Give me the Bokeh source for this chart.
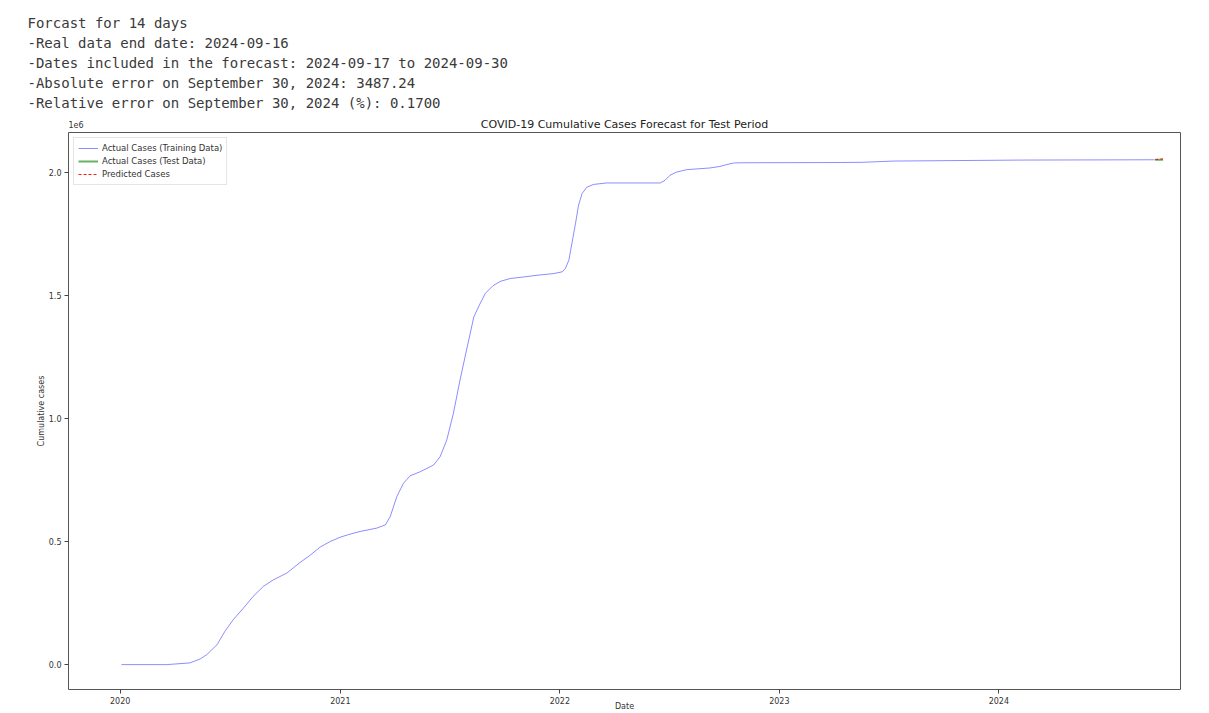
import pandas as pd
from bokeh.plotting import figure
from bokeh.layouts import column
from bokeh.models import (Range1d, FixedTicker, CustomJSTickFormatter, Label, Title,
                          Legend, LegendItem, ColumnDataSource)
from bokeh.embed import file_html
from bokeh.resources import INLINE

# ---------------- data ----------------
info_lines = [
    "Forcast for 14 days",
    "-Real data end date: 2024-09-16",
    "-Dates included in the forecast: 2024-09-17 to 2024-09-30",
    "-Absolute error on September 30, 2024: 3487.24",
    "-Relative error on September 30, 2024 (%): 0.1700",
]

train_dates = [
    "2020-01-03", "2020-03-18", "2020-04-26", "2020-05-13", "2020-05-24",
    "2020-06-10", "2020-06-23", "2020-07-07", "2020-07-24", "2020-08-09",
    "2020-08-26", "2020-09-12", "2020-10-04", "2020-10-26", "2020-11-12",
    "2020-11-28", "2020-12-15", "2021-01-01", "2021-01-17", "2021-02-03",
    "2021-03-03", "2021-03-17", "2021-03-25", "2021-04-05", "2021-04-16",
    "2021-04-27", "2021-05-14", "2021-06-05", "2021-06-16", "2021-06-27",
    "2021-07-08", "2021-07-19", "2021-07-31", "2021-08-11", "2021-08-21",
    "2021-08-30", "2021-09-12", "2021-09-25", "2021-10-11", "2021-11-02",
    "2021-11-24", "2021-12-22", "2022-01-05", "2022-01-10", "2022-01-16",
    "2022-01-21", "2022-01-27", "2022-02-01", "2022-02-07", "2022-02-15",
    "2022-02-26", "2022-03-20", "2022-06-17", "2022-06-25", "2022-07-03",
    "2022-07-14", "2022-07-31", "2022-09-08", "2022-09-24", "2022-10-06",
    "2022-10-17", "2022-10-28", "2023-04-13", "2023-05-20", "2023-07-10",
    "2024-02-06", "2024-09-16",
]
train_cases = [
    0, 0, 7000, 23000, 41000,
    81000, 135000, 183000, 230000, 277000,
    318000, 345000, 372000, 415000, 445000,
    477000, 500000, 518000, 530000, 541000,
    555000, 568000, 602000, 683000, 737000,
    767000, 784000, 811000, 845000, 913000,
    1021000, 1156000, 1291000, 1413000, 1465000,
    1508000, 1540000, 1558000, 1569000, 1575000,
    1582000, 1589000, 1596000, 1609000, 1643000,
    1711000, 1792000, 1866000, 1914000, 1940000,
    1951000, 1957000, 1957000, 1968000, 1988000,
    2001000, 2011000, 2018000, 2024000, 2032000,
    2038000, 2039000, 2040000, 2041000, 2046000,
    2050000, 2051200,
]

test_dates = ["2024-09-17", "2024-09-20", "2024-09-23", "2024-09-26", "2024-09-30"]
test_cases = [2051220, 2051250, 2051280, 2051300, 2051318]
pred_cases = [2051500, 2052300, 2053100, 2053900, 2054805]

year_ticks = ["2020-01-01", "2021-01-01", "2022-01-01", "2023-01-01", "2024-01-01"]
y_ticks = [0, 500000, 1000000, 1500000, 2000000]

title_text = "COVID-19 Cumulative Cases Forecast for Test Period"
x_label = "Date"
y_label = "Cumulative cases"
legend_labels = ["Actual Cases (Training Data)", "Actual Cases (Test Data)", "Predicted Cases"]

FONT = "DejaVu Sans"
MONO = "DejaVu Sans Mono"
W = 1201
LEFT = 68
RIGHT = 21
TOP_H = 130
HEAD_TOP = 112
CHART_H = 583

# ---------------- header figure ----------------
head = figure(width=W, height=TOP_H, x_range=Range1d(LEFT, W - RIGHT),
              y_range=Range1d(TOP_H, HEAD_TOP),
              output_backend="svg", toolbar_location=None,
              x_axis_location=None, y_axis_location=None,
              min_border_left=LEFT, min_border_right=RIGHT,
              min_border_top=HEAD_TOP, min_border_bottom=0)
head.outline_line_color = None
head.grid.visible = False
head.background_fill_color = "white"
head.border_fill_color = "white"

# text lines as titles stacked above the header frame (nearest first)
for txt in reversed(info_lines):
    head.add_layout(Title(text=txt, align="left", offset=27 - LEFT, standoff=2.4,
                          text_font=MONO, text_font_size="14px", text_font_style="normal",
                          text_color="#3a3a3a"), "above")

head.add_layout(Label(x=624, y=124, text=title_text, text_font=FONT, text_font_size="11px",
                      text_color="#222222", text_baseline="middle", text_align="center"))
head.add_layout(Label(x=68, y=124, text="1e6", text_font=FONT, text_font_size="8px",
                      text_color="#333333", text_baseline="middle", text_align="left"))

# ---------------- chart ----------------
x_start = pd.Timestamp("2019-10-07")
x_end = pd.Timestamp("2024-10-29")

p = figure(width=W, height=CHART_H, x_axis_type="datetime",
           x_range=Range1d(x_start, x_end), y_range=Range1d(-101000, 2162000),
           output_backend="svg", toolbar_location=None,
           min_border_left=LEFT, min_border_right=RIGHT,
           min_border_top=2, min_border_bottom=22)

p.background_fill_color = "white"
p.border_fill_color = "white"
p.outline_line_color = "#555555"
p.outline_line_width = 1
p.grid.visible = False

src_train = ColumnDataSource(dict(x=pd.to_datetime(train_dates), y=train_cases))
src_test = ColumnDataSource(dict(x=pd.to_datetime(test_dates), y=test_cases))
src_pred = ColumnDataSource(dict(x=pd.to_datetime(test_dates), y=pred_cases))

r1 = p.line("x", "y", source=src_train, line_color="blue", line_alpha=0.45, line_width=1)
r2 = p.line("x", "y", source=src_test, line_color="green", line_alpha=0.6, line_width=2)
r3 = p.line("x", "y", source=src_pred, line_color="red", line_alpha=0.9, line_width=1,
            line_dash="3 2")

xa = p.xaxis[0]
xa.ticker = FixedTicker(ticks=[pd.Timestamp(d).value / 1e6 for d in year_ticks])
xa.formatter = CustomJSTickFormatter(code="return String(new Date(tick).getUTCFullYear());")
xa.axis_label = x_label
xa.axis_label_standoff = -5
ya = p.yaxis[0]
ya.ticker = FixedTicker(ticks=y_ticks)
ya.formatter = CustomJSTickFormatter(code="return (tick/1e6).toFixed(1);")
ya.axis_label = y_label
ya.axis_label_standoff = 0

for ax in (xa, ya):
    ax.axis_label_text_font = FONT
    ax.axis_label_text_font_size = "8px"
    ax.axis_label_text_font_style = "normal"
    ax.axis_label_text_color = "#333333"
    ax.axis_line_color = None
    ax.major_tick_line_color = "#444444"
    ax.major_tick_out = 4
    ax.major_tick_in = 0
    ax.minor_tick_line_color = None
    ax.major_label_text_font = FONT
    ax.major_label_text_font_size = "8px"
    ax.major_label_text_color = "#333333"
    ax.major_label_standoff = 3

legend = Legend(items=[LegendItem(label=legend_labels[0], renderers=[r1]),
                       LegendItem(label=legend_labels[1], renderers=[r2]),
                       LegendItem(label=legend_labels[2], renderers=[r3])],
                location="top_left")
legend.label_text_font = FONT
legend.label_text_font_size = "8.5px"
legend.label_text_color = "#333333"
legend.glyph_width = 20
legend.glyph_height = 12
legend.label_height = 12
legend.label_standoff = 4
legend.spacing = 1
legend.padding = 4
legend.margin = 5
legend.border_line_color = "#cccccc"
legend.border_line_width = 1
legend.background_fill_alpha = 0.9
p.add_layout(legend)

layout = column(head, p, spacing=0)
open("out.html", "w").write(file_html(layout, INLINE))
